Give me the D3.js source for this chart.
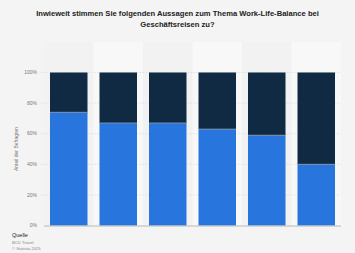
<!DOCTYPE html>
<html><head><meta charset="utf-8">
<script src="https://cdn.jsdelivr.net/npm/d3@7"></script>
<style>html,body{margin:0;padding:0;background:#f4f4f4;}svg{display:block;font-family:"Liberation Sans",Arial,sans-serif;}</style>
</head><body>
<svg id="c" width="355" height="253"></svg>
<script>
const categories = ["A1","A2","A3","A4","A5","A6"];
const agree = [74, 67, 67, 63, 59, 40];
const disagree = [26, 33, 33, 37, 41, 60];
const yTicks = [0, 20, 40, 60, 80, 100];
const titleLines = ["Inwieweit stimmen Sie folgenden Aussagen zum Thema Work-Life-Balance bei", "Geschäftsreisen zu?"];

const svg = d3.select("#c");
const W = 355, H = 253;
svg.append("rect").attr("width", W).attr("height", H).attr("fill", "#f4f4f4");

const m = {left: 44, right: 14, top: 42, bottom: 27.5};
const x = d3.scaleBand().domain(categories).range([m.left, W - m.right]).paddingInner(0).paddingOuter(0);
const y = d3.scaleLinear().domain([0, 100]).range([225.5, 72.5]);

// alternating bands
svg.append("g").selectAll("rect").data(categories).join("rect")
  .attr("x", d => x(d)).attr("width", x.bandwidth())
  .attr("y", m.top).attr("height", y(0) - m.top)
  .attr("fill", (d, i) => i % 2 ? "#f8f8f8" : "#f2f2f2");

// gridlines
svg.append("g").selectAll("line").data(yTicks.filter(t => t > 0)).join("line")
  .attr("x1", m.left - 4).attr("x2", W - m.right)
  .attr("y1", d => y(d)).attr("y2", d => y(d))
  .attr("stroke", "#e0e0e0").attr("stroke-width", 0.7).attr("stroke-dasharray", "2,1");

// y tick labels
svg.append("g").selectAll("text").data(yTicks).join("text")
  .attr("x", 37).attr("y", d => y(d)).attr("dy", "0.35em")
  .attr("text-anchor", "end").attr("font-size", 5).attr("fill", "#777")
  .text(d => d + "%");

// y axis title
svg.append("text").attr("transform", `translate(18,${(y(0)+y(100))/2}) rotate(-90)`)
  .attr("text-anchor", "middle").attr("font-size", 5).attr("fill", "#777")
  .text("Anteil der Befragten");

// bars
const inner = 6;
const bw = x.bandwidth() - inner * 2;
const g = svg.append("g");
g.selectAll("rect.agree").data(categories).join("rect").attr("class", "agree")
  .attr("x", d => x(d) + inner).attr("width", bw)
  .attr("y", (d, i) => y(agree[i])).attr("height", (d, i) => y(0) - y(agree[i]))
  .attr("fill", "#2876dd");
g.selectAll("rect.dis").data(categories).join("rect").attr("class", "dis")
  .attr("x", d => x(d) + inner).attr("width", bw)
  .attr("y", (d, i) => y(agree[i] + disagree[i])).attr("height", (d, i) => y(agree[i]) - y(agree[i] + disagree[i]))
  .attr("fill", "#0f2a42");
g.selectAll("line.sep").data(categories).join("line").attr("class", "sep")
  .attr("x1", d => x(d) + inner).attr("x2", d => x(d) + inner + bw)
  .attr("y1", (d, i) => y(agree[i])).attr("y2", (d, i) => y(agree[i]))
  .attr("stroke", "#8a9bb0").attr("stroke-width", 0.8);

// baseline
svg.append("line").attr("x1", m.left).attr("x2", W - m.right)
  .attr("y1", y(0) + 0.5).attr("y2", y(0) + 0.5).attr("stroke", "#aaa").attr("stroke-width", 0.8);

// title
svg.append("g").selectAll("text").data(titleLines).join("text")
  .attr("x", 177.5).attr("y", (d, i) => 16 + i * 11)
  .attr("text-anchor", "middle").attr("font-size", 7.6).attr("font-weight", "bold").attr("fill", "#222")
  .text(d => d);

// footer
svg.append("text").attr("x", 12).attr("y", 237).attr("font-size", 5.5).attr("fill", "#222").text("Quelle");
svg.append("text").attr("x", 12).attr("y", 243.5).attr("font-size", 4.2).attr("fill", "#888").text("BCD Travel");
svg.append("text").attr("x", 12).attr("y", 249.5).attr("font-size", 4.2).attr("fill", "#888").text("© Statista 2025");
</script>
</body></html>
